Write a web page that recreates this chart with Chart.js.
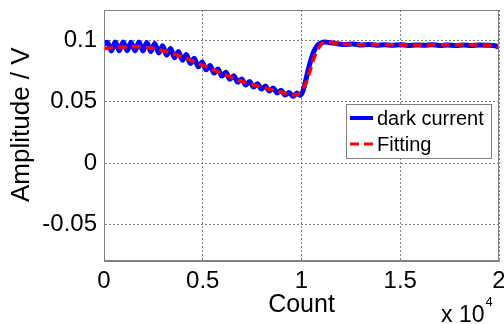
<!DOCTYPE html>
<html lang="en">
<head>
    <meta charset="UTF-8">
    <title>dark current - fitting</title>
    <script src="https://cdn.jsdelivr.net/npm/chart.js"></script>
    <style>
        html, body { margin: 0; padding: 0; background: #fff; }
    </style>
</head>
<body>
    <canvas id="chart" width="504" height="324"></canvas>
</body>

<script>

// 측정 데이터 (dark current): x = Count, y = Amplitude / V
const darkX = [
    0, 170, 370, 570, 770, 970, 1170, 1370, 1570, 1770, 1970, 2170, 2370, 2570, 2770, 2970,
    3170, 3370, 3570, 3770, 3970, 4170, 4370, 4570, 4770, 4970, 5170, 5370, 5570, 5770, 5970,
    6170, 6370, 6570, 6770, 6970, 7170, 7370, 7570, 7770, 7970, 8170, 8370, 8570, 8770, 8970,
    9170, 9370, 9570, 9770, 9950, 10100, 10250, 10400, 10550, 10700, 10850, 11000, 11200,
    11400, 11800, 12200, 12600, 13000, 13400, 13800, 14200, 14600, 15000, 15400, 15800, 16200,
    16600, 17000, 17400, 17800, 18200, 18600, 19000, 19400, 19800, 20000
];
const darkY = [
    0.0972, 0.0986, 0.0916, 0.0988, 0.0917, 0.0989, 0.0918, 0.0987, 0.0917, 0.0988, 0.0916, 0.0985, 0.0911, 0.0977, 0.0899, 0.0957,
    0.0881, 0.0935, 0.0860, 0.0911, 0.0840, 0.0886, 0.0813, 0.0856, 0.0786, 0.0825, 0.0761, 0.0796, 0.0735, 0.0768, 0.0710,
    0.0741, 0.0685, 0.0714, 0.0660, 0.0687, 0.0638, 0.0667, 0.0621, 0.0648, 0.0604, 0.0630, 0.0588, 0.0612, 0.0573, 0.0594,
    0.0556, 0.0577, 0.0544, 0.0572, 0.0553, 0.0600, 0.0700, 0.0800, 0.0880, 0.0935, 0.0968, 0.0982, 0.0988,
    0.0984, 0.0975, 0.0968, 0.0972, 0.0964, 0.0969, 0.0962, 0.0967, 0.0963, 0.0966, 0.0961, 0.0965, 0.0962,
    0.0967, 0.0961, 0.0964, 0.0960, 0.0965, 0.0961, 0.0964, 0.0962, 0.0958, 0.0948
];

// 피팅 곡선
const fitX = [
    0, 500, 1000, 1500, 2000, 2500, 3000, 3500, 4000, 4500, 5000, 5500, 6000, 6500, 7000, 7500,
    8000, 8500, 9000, 9500, 9750, 10000, 10200, 10400, 10600, 10800, 11000, 11200, 11400, 11800,
    12500, 13500, 14500, 15500, 16500, 17500, 18500, 19300, 19700, 20000
];
const fitY = [
    0.0935, 0.0943, 0.0948, 0.0949, 0.0946, 0.0937, 0.0917, 0.0893, 0.0865, 0.0833, 0.0797, 0.0763, 0.0730, 0.0697, 0.0665, 0.0642,
    0.0620, 0.0599, 0.0578, 0.0558, 0.0556, 0.0597, 0.0645, 0.0735, 0.0840, 0.0920, 0.0968, 0.0985, 0.0986, 0.0976,
    0.0968, 0.0966, 0.0966, 0.0965, 0.0965, 0.0966, 0.0965, 0.0964, 0.0960, 0.0950
];

// 축 눈금
const xTicks      = [0, 5000, 10000, 15000, 20000];
const xTickLabels = ['0', '0.5', '1', '1.5', '2'];
const yTicks      = [-0.05, 0, 0.05, 0.1];
const yTickLabels = ['-0.05', '0', '0.05', '0.1'];

const FONT = "'Liberation Sans', Arial, Helvetica, sans-serif";
const GRAY = '#808080';

// 플롯 테두리 + 범례 + x 10^4
const decor = {
    id: 'decor',
    afterDraw(chart) {
        const ctx = chart.ctx;
        const a = chart.chartArea;
        ctx.save();
        ctx.strokeStyle = GRAY;
        ctx.lineWidth = 1;
        ctx.setLineDash([]);
        ctx.strokeRect(a.left + 0.5, a.top + 0.5, a.right - a.left - 1, a.bottom - a.top - 1);

        // 범례
        const bx = 346, by = 104, bw = 145, bh = 54;
        ctx.fillStyle = '#fff';
        ctx.fillRect(bx, by, bw, bh);
        ctx.strokeRect(bx + 0.5, by + 0.5, bw, bh);
        const ds = chart.data.datasets;
        const rows = [118, 144];
        ds.forEach((d, i) => {
            ctx.beginPath();
            ctx.strokeStyle = d.borderColor;
            ctx.lineWidth = i === 0 ? 4 : 3;
            ctx.setLineDash(d.borderDash || []);
            ctx.moveTo(350, rows[i]);
            ctx.lineTo(373, rows[i]);
            ctx.stroke();
            ctx.setLineDash([]);
            ctx.fillStyle = '#000';
            ctx.font = '20px ' + FONT;
            ctx.textBaseline = 'middle';
            ctx.textAlign = 'left';
            ctx.fillText(d.label, 377, rows[i] + 1);
        });

        // x 10^4
        ctx.fillStyle = '#000';
        ctx.textBaseline = 'alphabetic';
        ctx.font = '23px ' + FONT;
        ctx.fillText('x 10', 441, 322);
        const w = ctx.measureText('x 10').width;
        ctx.font = '13px ' + FONT;
        ctx.fillText('4', 441 + w + 1, 306);
        ctx.restore();
    }
};

new Chart(document.getElementById('chart'), {
    type: 'line',
    data: {
        datasets: [
            {
                label: 'dark current',
                data: darkX.map((x, i) => ({x: x, y: darkY[i]})),
                borderColor: '#0000ff',
                borderWidth: 5,
                pointRadius: 0,
                cubicInterpolationMode: 'monotone',
                fill: false,
                order: 2
            },
            {
                label: 'Fitting',
                data: fitX.map((x, i) => ({x: x, y: fitY[i]})),
                borderColor: '#ff0000',
                borderWidth: 3.5,
                borderDash: [9, 5],
                pointRadius: 0,
                cubicInterpolationMode: 'monotone',
                fill: false,
                order: 1
            }
        ]
    },
    options: {
        responsive: false,
        animation: false,
        layout: { padding: { top: 10, right: 5, left: 0, bottom: 0 } },
        plugins: { legend: { display: false }, tooltip: { enabled: false } },
        scales: {
            x: {
                type: 'linear',
                min: 0,
                max: 20000,
                afterBuildTicks: s => { s.ticks = xTicks.map(v => ({value: v})); },
                afterFit: s => { s.height = 63; s.paddingLeft = 0; s.paddingRight = 0; },
                ticks: {
                    callback: v => xTickLabels[xTicks.indexOf(v)],
                    autoSkip: false,
                    maxRotation: 0,
                    padding: 6,
                    color: '#000',
                    font: { family: FONT, size: 24 }
                },
                grid: { color: GRAY, drawTicks: false, lineWidth: 1 },
                border: { display: true, color: GRAY, dash: [2, 2] },
                title: {
                    display: true,
                    text: 'Count',
                    color: '#000',
                    font: { family: FONT, size: 25 },
                    padding: { top: 0, bottom: 4 }
                }
            },
            y: {
                type: 'linear',
                min: -0.08,
                max: 0.125,
                afterBuildTicks: s => { s.ticks = yTicks.map(v => ({value: v})); },
                afterFit: s => { s.width = 104; s.paddingTop = 0; s.paddingBottom = 0; },
                ticks: {
                    callback: v => yTickLabels[yTicks.findIndex(t => Math.abs(t - v) < 1e-9)],
                    autoSkip: false,
                    padding: 7,
                    color: '#000',
                    font: { family: FONT, size: 24 }
                },
                grid: { color: GRAY, drawTicks: false, lineWidth: 1 },
                border: { display: true, color: GRAY, dash: [2, 2] },
                title: {
                    display: true,
                    text: '   Amplitude / V',
                    color: '#000',
                    font: { family: FONT, size: 26 },
                    padding: { top: 6, bottom: 0 }
                }
            }
        }
    },
    plugins: [decor]
});

</script>
</html>
